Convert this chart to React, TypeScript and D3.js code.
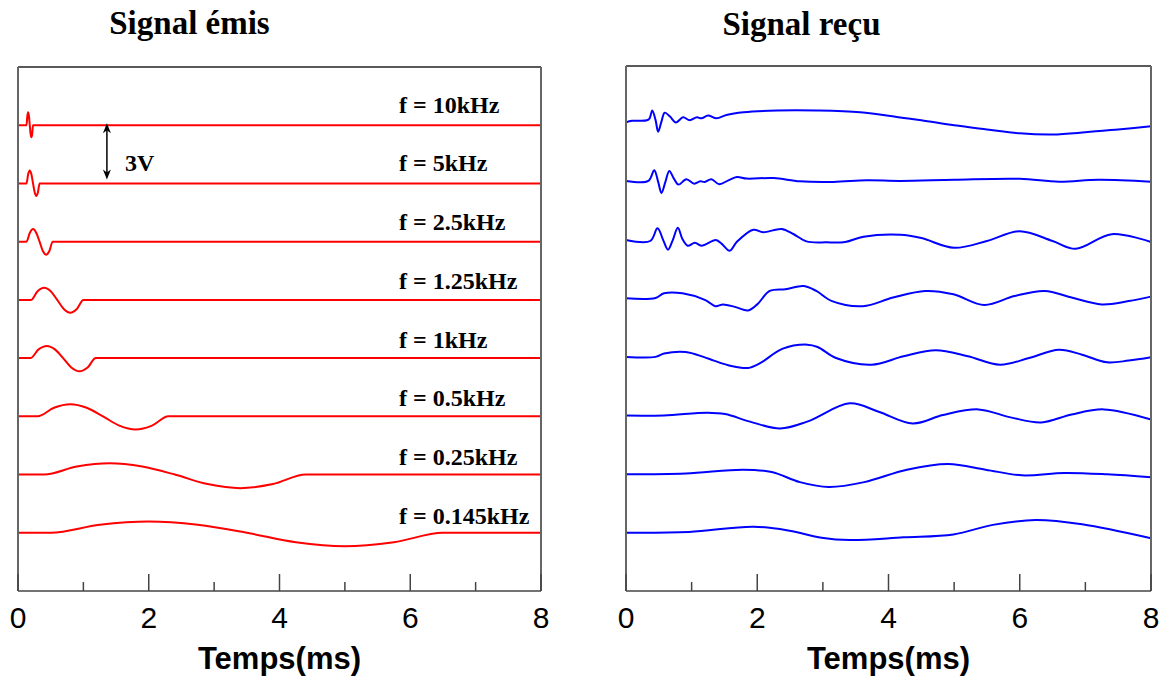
import React from 'react';
import * as d3 from 'd3';

type Pt = [number, number];

const timeDomain: [number, number] = [0, 8];
const voltDomain: [number, number] = [-3, 24];
const majorTicks = [0, 2, 4, 6, 8];
const minorTicks = [1, 3, 5, 7];
const freqLabels = ['f = 10kHz', 'f = 5kHz', 'f = 2.5kHz', 'f = 1.25kHz', 'f = 1kHz', 'f = 0.5kHz', 'f = 0.25kHz', 'f = 0.145kHz'];
const traceOffsets = [21, 18, 15, 12, 9, 6, 3, 0];
const titles = ['Signal émis', 'Signal reçu'];
const axisTitle = 'Temps(ms)';
const scaleLabel = '3V';
const scaleArrowTime = 1.36;

// Emitted signals (time ms, volts relative to trace baseline)
const emis10k: Pt[] = [[0, 0], [0.13, 0], [0.1425, 0.47], [0.155, 0.67], [0.1675, 0.47], [0.18, 0], [0.1925, -0.44], [0.205, -0.62], [0.2175, -0.44], [0.23, 0], [8, 0]];
const emis5k: Pt[] = [[0, 0], [0.13, 0], [0.155, 0.47], [0.18, 0.67], [0.205, 0.47], [0.23, 0], [0.255, -0.46], [0.28, -0.65], [0.305, -0.46], [0.33, 0], [8, 0]];
const emis2500: Pt[] = [[0, 0], [0.13, 0], [0.18, 0.45], [0.23, 0.65], [0.28, 0.45], [0.33, 0], [0.38, -0.48], [0.43, -0.67], [0.48, -0.48], [0.53, 0], [8, 0]];
const emis1250: Pt[] = [[0, 0], [0.2, 0], [0.3, 0.45], [0.4, 0.63], [0.5, 0.45], [0.6, 0], [0.7, -0.47], [0.8, -0.66], [0.9, -0.47], [1.0, 0], [8, 0]];
const emis1000: Pt[] = [[0, 0], [0.19, 0], [0.315, 0.45], [0.44, 0.63], [0.565, 0.45], [0.69, 0], [0.815, -0.48], [0.94, -0.68], [1.065, -0.48], [1.19, 0], [8, 0]];
const emis500: Pt[] = [[0, 0], [0.3, 0], [0.55, 0.44], [0.8, 0.62], [1.05, 0.44], [1.3, 0], [1.55, -0.48], [1.8, -0.68], [2.05, -0.48], [2.3, 0], [8, 0]];
const emis250: Pt[] = [[0, 0], [0.4, 0], [0.9, 0.41], [1.4, 0.58], [1.9, 0.41], [2.4, 0], [2.9, -0.49], [3.4, -0.7], [3.9, -0.49], [4.4, 0], [8, 0]];
const emis145: Pt[] = [[0, 0], [0.5, 0], [1.25, 0.41], [2.0, 0.58], [2.75, 0.41], [3.5, 0], [4.25, -0.49], [5.0, -0.7], [5.75, -0.49], [6.5, 0], [8, 0]];

// Received signals
const recu10k: Pt[] = [[0, 0.1], [0.09, 0.18], [0.32, 0.21], [0.36, 0.31], [0.4, 0.71], [0.45, 0.23], [0.49, -0.38], [0.54, 0.14], [0.59, 0.6], [0.67, 0.4], [0.76, 0.1], [0.87, 0.36], [0.97, 0.21], [1.08, 0.36], [1.15, 0.31], [1.25, 0.45], [1.38, 0.31], [1.53, 0.48], [1.79, 0.62], [2.3, 0.71], [2.91, 0.71], [3.57, 0.62], [4.18, 0.35], [4.5, 0.21], [5.0, -0.05], [5.5, -0.26], [6.0, -0.46], [6.5, -0.52], [7.0, -0.41], [7.5, -0.26], [8, -0.1]];
const recu5k: Pt[] = [[0, 0.09], [0.34, 0.09], [0.43, 0.64], [0.49, 0.04], [0.54, -0.53], [0.6, 0.04], [0.66, 0.6], [0.73, 0.21], [0.8, -0.1], [0.92, 0.18], [1.04, -0.05], [1.13, 0.07], [1.2, 0.04], [1.3, 0.18], [1.42, -0.08], [1.56, 0.12], [1.69, 0.29], [1.84, 0.21], [2.25, 0.24], [2.65, 0.07], [3.16, 0.04], [3.67, 0.12], [4.18, 0.09], [5.0, 0.15], [6.0, 0.2], [6.6, 0.05], [7.2, 0.15], [8, 0.05]];
const recu2500: Pt[] = [[0, 0.05], [0.37, 0], [0.48, 0.65], [0.57, 0.02], [0.64, -0.45], [0.71, 0.02], [0.79, 0.68], [0.86, 0.1], [0.94, -0.24], [1.05, -0.09], [1.15, -0.24], [1.37, 0.05], [1.46, -0.15], [1.58, -0.5], [1.69, -0.04], [1.94, 0.58], [2.09, 0.45], [2.37, 0.62], [2.55, 0.36], [2.75, -0.02], [3.06, -0.07], [3.34, -0.05], [3.62, 0.22], [4.18, 0.32], [4.5, 0.15], [5.0, -0.35], [5.5, 0.0], [6.0, 0.5], [6.5, 0.0], [6.85, -0.4], [7.4, 0.35], [8, -0.05]];
const recu1250: Pt[] = [[0, 0.05], [0.45, 0.07], [0.58, 0.31], [0.86, 0.31], [1.21, -0.04], [1.36, -0.35], [1.48, -0.26], [1.67, -0.4], [1.86, -0.57], [2.0, -0.26], [2.19, 0.43], [2.43, 0.52], [2.71, 0.68], [2.9, 0.43], [3.14, -0.09], [3.61, -0.35], [4.07, 0.09], [4.56, 0.43], [4.99, 0.26], [5.46, -0.29], [5.92, 0.17], [6.38, 0.43], [6.79, 0.09], [7.25, -0.26], [7.66, -0.09], [8, 0.14]];
const recu1000: Pt[] = [[0, 0.04], [0.45, 0.04], [0.58, 0.21], [0.91, 0.29], [1.18, 0.04], [1.34, -0.15], [1.56, -0.39], [1.86, -0.53], [2.05, -0.27], [2.38, 0.45], [2.76, 0.67], [2.92, 0.55], [3.2, -0.02], [3.74, -0.36], [4.23, 0.07], [4.72, 0.38], [5.21, 0.07], [5.7, -0.36], [6.14, -0.02], [6.6, 0.41], [6.95, 0.15], [7.33, -0.24], [7.66, -0.15], [8, 0.02]];
const recu500: Pt[] = [[0, 0.02], [0.58, 0.03], [1.24, 0.17], [1.51, 0.1], [1.89, -0.29], [2.35, -0.64], [2.76, -0.29], [3.41, 0.65], [3.85, 0.22], [4.37, -0.38], [4.83, 0.05], [5.37, 0.34], [5.86, -0.07], [6.33, -0.33], [6.79, 0.08], [7.28, 0.34], [8, -0.18]];
const recu250: Pt[] = [[0, 0], [0.91, 0.04], [1.78, 0.24], [2.22, 0.12], [2.65, -0.4], [3.09, -0.65], [3.63, -0.4], [4.28, 0.24], [4.91, 0.53], [5.48, 0.24], [6.03, -0.05], [6.68, 0.07], [7.33, 0], [8, -0.15]];
const recu145: Pt[] = [[0, 0], [0.96, 0.04], [1.94, 0.31], [2.49, 0.1], [2.98, -0.26], [3.41, -0.38], [4.23, -0.24], [4.99, -0.09], [5.59, 0.4], [6.24, 0.65], [6.95, 0.43], [8, -0.29]];

const emisSeries = [emis10k, emis5k, emis2500, emis1250, emis1000, emis500, emis250, emis145];
const recuSeries = [recu10k, recu5k, recu2500, recu1250, recu1000, recu500, recu250, recu145];

interface PanelProps {
  x0: number; x1: number; top: number; bottom: number;
  series: Pt[][]; color: string; withLabels: boolean; withScale: boolean; smooth: boolean;
}

function Panel({ x0, x1, top, bottom, series, color, withLabels, withScale, smooth }: PanelProps) {
  const x = d3.scaleLinear().domain(timeDomain).range([x0, x1]);
  const y = d3.scaleLinear().domain(voltDomain).range([bottom, top]);
  const mid = (x0 + x1) / 2;
  return (
    <g>
      {series.map((pts, k) => {
        const line = d3.line<Pt>()
          .x(d => x(d[0]))
          .y(d => y(d[1] + traceOffsets[k]))
          .curve(smooth ? d3.curveCatmullRom.alpha(0.5) : d3.curveMonotoneX);
        return <path key={k} d={line(pts) || ''} fill="none" stroke={color} strokeWidth={2} strokeLinejoin="round" />;
      })}
      {withLabels && freqLabels.map((lab, k) => (
        <text key={lab} x={399} y={y(traceOffsets[k]) - 12.5 + k * 0.5}
          fontFamily="'Liberation Serif', 'Times New Roman', serif" fontWeight="bold" fontSize={24} fill="#000">{lab}</text>
      ))}
      {withScale && (() => {
        const ax = x(scaleArrowTime);
        const yt = y(traceOffsets[0]) - 2;
        const yb = y(traceOffsets[1]) - 4;
        return (
          <g>
            <line x1={ax} x2={ax} y1={yt + 6} y2={yb - 6} stroke="#000" strokeWidth={1.5} />
            <path d={`M${ax},${yt} L${ax - 4},${yt + 10} L${ax},${yt + 7} L${ax + 4},${yt + 10} Z`} fill="#000" />
            <path d={`M${ax},${yb} L${ax - 4},${yb - 10} L${ax},${yb - 7} L${ax + 4},${yb - 10} Z`} fill="#000" />
            <text x={ax + 18} y={171} fontFamily="'Liberation Serif', 'Times New Roman', serif" fontWeight="bold" fontSize={24} fill="#000">{scaleLabel}</text>
          </g>
        );
      })()}
      <line x1={x0} x2={x1} y1={top} y2={top} stroke="#222" strokeWidth={1.5} />
      <line x1={x0} x2={x0} y1={top} y2={bottom} stroke="#666" strokeWidth={2} />
      <line x1={x1} x2={x1} y1={top} y2={bottom} stroke="#666" strokeWidth={2} />
      <line x1={x0} x2={x1} y1={bottom} y2={bottom} stroke="#444" strokeWidth={1.5} />
      {majorTicks.map(t => (
        <g key={'M' + t}>
          <line x1={x(t)} x2={x(t)} y1={bottom} y2={bottom - 17} stroke="#444" strokeWidth={1.5} />
          <text x={x(t)} y={628} textAnchor="middle" fontFamily="'Liberation Sans', Arial, sans-serif" fontSize={30} fill="#000">{t}</text>
        </g>
      ))}
      {minorTicks.map(t => (
        <line key={'m' + t} x1={x(t)} x2={x(t)} y1={bottom} y2={bottom - 9} stroke="#444" strokeWidth={1.5} />
      ))}
      <text x={mid} y={669} textAnchor="middle" fontFamily="'Liberation Sans', Arial, sans-serif" fontWeight="bold" fontSize={31} fill="#000">{axisTitle}</text>
    </g>
  );
}

export default function App() {
  return (
    <svg width={1171} height={677} style={{ position: 'absolute', left: 0, top: 0, background: '#fff' }}>
      <rect x={0} y={0} width={1171} height={677} fill="#fff" />
      <text x={189.5} y={33.5} textAnchor="middle" fontFamily="'Liberation Serif', 'Times New Roman', serif" fontWeight="bold" fontSize={33} fill="#000">{titles[0]}</text>
      <text x={801.5} y={34.5} textAnchor="middle" fontFamily="'Liberation Serif', 'Times New Roman', serif" fontWeight="bold" fontSize={33} fill="#000">{titles[1]}</text>
      <Panel x0={18} x1={541} top={67} bottom={591} series={emisSeries} color="#ff0000" withLabels={true} withScale={true} smooth={false} />
      <Panel x0={626} x1={1151} top={66} bottom={591} series={recuSeries} color="#0000ff" withLabels={false} withScale={false} smooth={true} />
    </svg>
  );
}
